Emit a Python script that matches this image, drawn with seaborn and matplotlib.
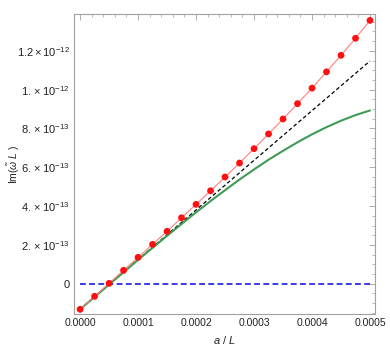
import matplotlib
matplotlib.use("Agg")
import matplotlib.pyplot as plt
import matplotlib.ticker as mticker
import seaborn as sns
import pandas as pd

# a/L sample points
a_L = [0.0, 0.000025, 0.00005, 0.000075, 0.0001, 0.000125, 0.00015, 0.000175,
       0.0002, 0.000225, 0.00025, 0.000275, 0.0003, 0.000325, 0.00035,
       0.000375, 0.0004, 0.000425, 0.00045, 0.000475, 0.0005]
# numerical Im(omega L), units of 1e-12
im_num = [-0.132, -0.065, 0.002, 0.069, 0.136, 0.203, 0.270, 0.340, 0.409,
          0.479, 0.550, 0.622, 0.696, 0.772, 0.849, 0.928, 1.008, 1.092,
          1.177, 1.265, 1.357]
# analytic curve (green)
im_curve = [-0.132, -0.068, -0.004, 0.059, 0.123, 0.185, 0.247, 0.308, 0.368,
            0.426, 0.482, 0.537, 0.589, 0.639, 0.685, 0.729, 0.770, 0.807,
            0.840, 0.869, 0.893]
# linear approximation (black dashed)
lin_x = [0.0, 0.0005]
lin_y = [-0.132, 1.148]
# zero line
zero_x = [0.0, 0.0005]
zero_y = [0.0, 0.0]

yticks = [0, 2e-13, 4e-13, 6e-13, 8e-13, 1e-12, 1.2e-12]
ylabels = ["0", r"$2.\times10^{-13}$", r"$4.\times10^{-13}$", r"$6.\times10^{-13}$",
           r"$8.\times10^{-13}$", r"$1.\times10^{-12}$", r"$1.2\times10^{-12}$"]
xticks = [0.0, 0.0001, 0.0002, 0.0003, 0.0004, 0.0005]
xlabels = ["0.0000", "0.0001", "0.0002", "0.0003", "0.0004", "0.0005"]

sns.set_style("white")
plt.rcParams["font.family"] = ["Liberation Sans", "DejaVu Sans"]
plt.rcParams["mathtext.fontset"] = "custom"
plt.rcParams["mathtext.rm"] = "Liberation Sans"
plt.rcParams["mathtext.it"] = "Liberation Sans:italic"

df = pd.DataFrame({"a": a_L,
                   "num": [v * 1e-12 for v in im_num],
                   "curve": [v * 1e-12 for v in im_curve]})

fig = plt.figure(figsize=(3.9, 3.46), dpi=100)
ax = fig.add_axes([0.19, 0.0925, 0.7715, 0.867])

sns.lineplot(x=zero_x, y=zero_y, ax=ax, color="#1a1ae6", lw=1.2,
             linestyle=(0, (3.5, 2)), zorder=2)
sns.lineplot(x=lin_x, y=[v * 1e-12 for v in lin_y], ax=ax, color="black",
             lw=0.9, linestyle=(0, (3, 2)), zorder=3)
sns.lineplot(data=df, x="a", y="curve", ax=ax, color="#3f9b55", lw=1.5, zorder=4)
sns.lineplot(data=df, x="a", y="num", ax=ax, color="#ff7f7f", lw=0.8, zorder=5)
sns.scatterplot(data=df, x="a", y="num", ax=ax, color="#ff1010", s=24,
                edgecolor="none", zorder=6)

ax.set_xlim(-1.03e-5, 0.0005086)
ax.set_ylim(-0.156e-12, 1.390e-12)
ax.set_xticks(xticks)
ax.set_xticklabels(xlabels)
ax.set_yticks(yticks)
ax.set_yticklabels(ylabels)
ax.xaxis.set_minor_locator(mticker.MultipleLocator(0.00002))
ax.yaxis.set_minor_locator(mticker.MultipleLocator(5e-14))

for s in ax.spines.values():
    s.set_color("#a0a0a0")
    s.set_linewidth(0.8)
ax.tick_params(which="both", direction="in", top=True, right=True,
               color="#a0a0a0", labelsize=7.5, pad=3, labelcolor="#222222")
ax.tick_params(axis="y", which="major", labelsize=8)
ax.tick_params(which="major", length=4, width=0.6)
ax.tick_params(which="minor", length=2.2, width=0.5)

ax.set_xlabel(r"$a$ / $L$", fontsize=8, color="#222222", labelpad=4)
ax.set_ylabel(r"Im($\tilde{\omega}$ $L$ )", fontsize=7.5, color="#222222",
              va="center")
ax.yaxis.set_label_coords(-0.2, 0.5)

fig.savefig("out.png", dpi=100)
